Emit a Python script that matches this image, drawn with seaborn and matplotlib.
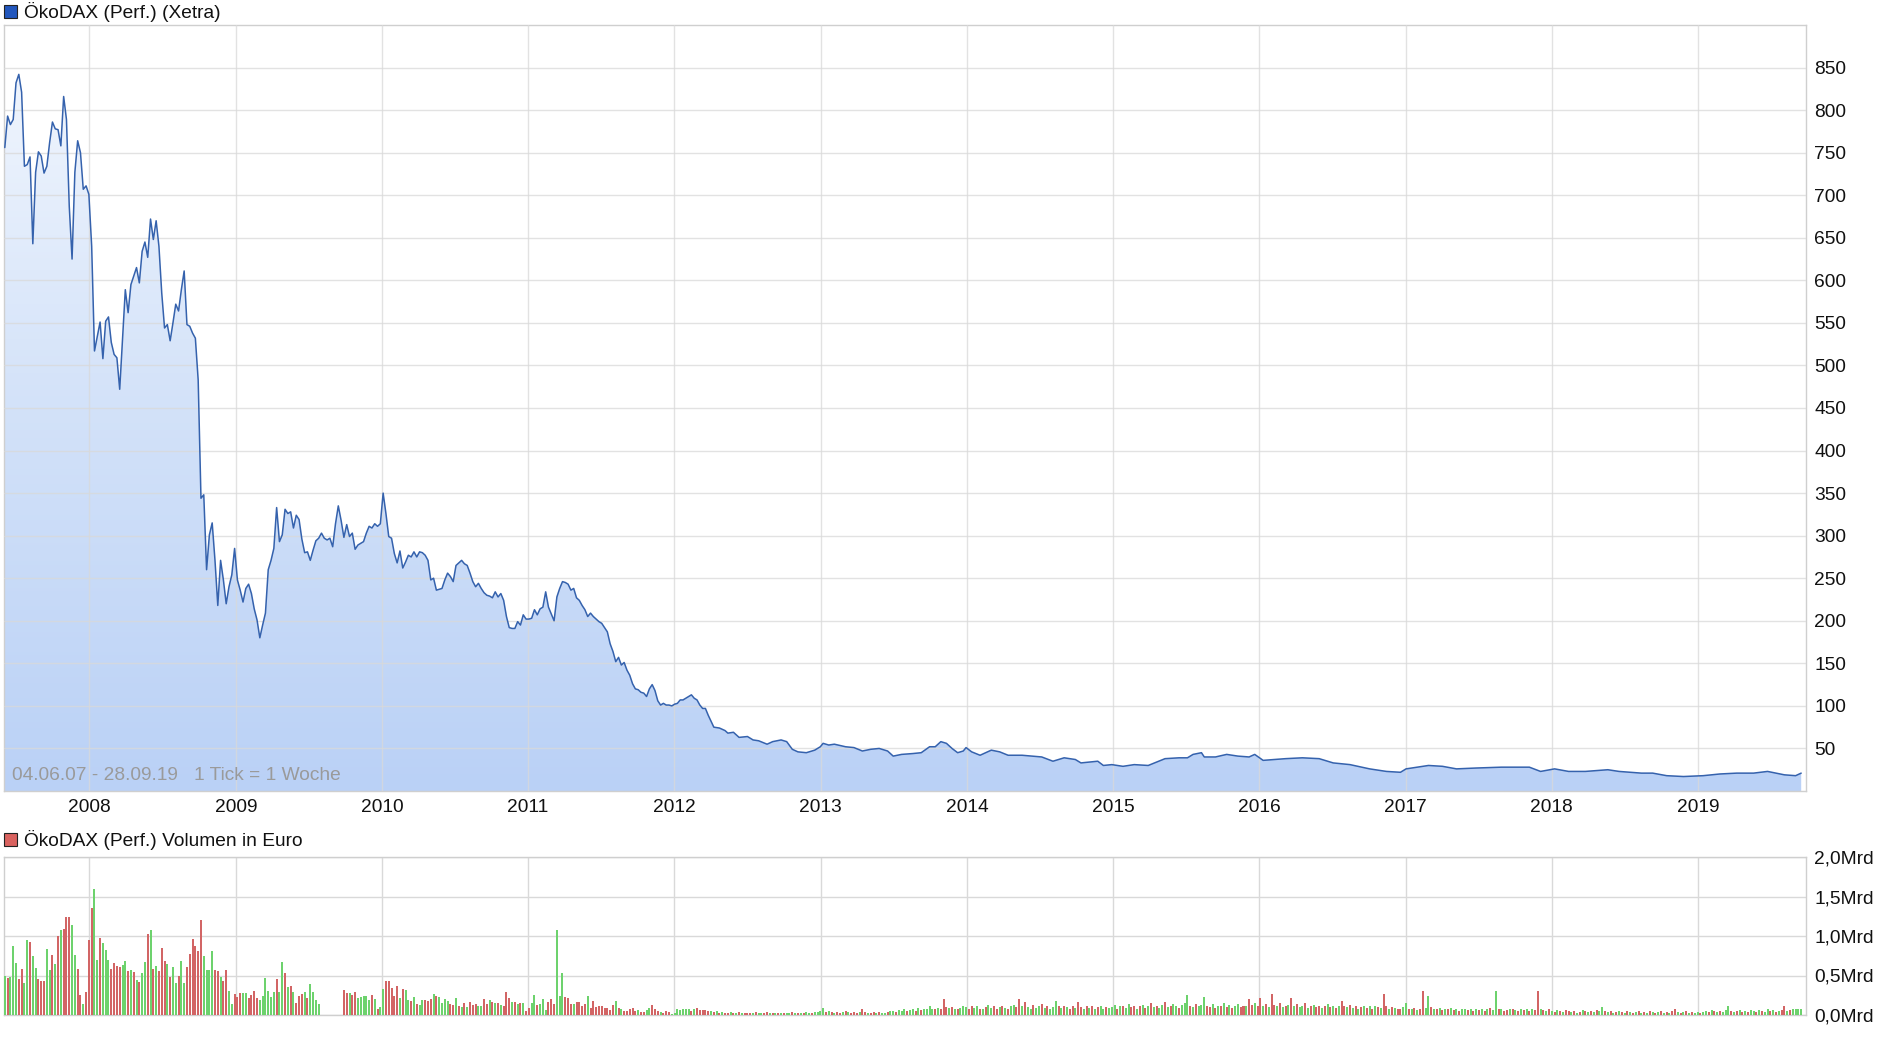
import numpy as np
import pandas as pd
import seaborn as sns
import matplotlib.pyplot as plt
import matplotlib.dates as mdates
from matplotlib.colors import LinearSegmentedColormap
from matplotlib.patches import Rectangle

# I. Data (weekly ticks, first tick 04.06.2007)
start = pd.Timestamp('2007-06-04')

# 1.1 price, one value per week for the first 250 weeks
price_weekly = [
    756, 793, 783, 789, 832, 842, 821, 734, 736, 745, 643, 727, 751, 746, 726, 734, 762, 786, 778, 777,
    758, 816, 789, 687, 625, 727, 764, 750, 707, 711, 701, 640, 517, 534, 551, 508, 552, 557, 527, 513,
    509, 472, 530, 589, 562, 595, 605, 615, 597, 634, 645, 627, 672, 648, 670, 640, 585, 544, 548, 529,
    550, 572, 564, 589, 611, 548, 546, 538, 532, 483, 344, 348, 260, 301, 315, 271, 218, 271, 248, 220,
    240, 254, 285, 248, 236, 222, 238, 243, 232, 214, 201, 180, 195, 209, 260, 271, 285, 333, 293, 301,
    331, 326, 328, 309, 324, 319, 296, 280, 281, 271, 283, 294, 297, 303, 297, 295, 297, 287, 314, 335,
    318, 298, 313, 299, 303, 284, 289, 291, 293, 303, 311, 309, 314, 311, 314, 350, 326, 299, 297, 279,
    268, 282, 262, 269, 277, 275, 281, 275, 281, 280, 277, 271, 248, 250, 236, 237, 238, 248, 256, 252,
    246, 265, 268, 271, 267, 265, 256, 246, 240, 244, 238, 233, 230, 229, 227, 234, 228, 232, 224, 205,
    192, 191, 191, 199, 195, 207, 202, 202, 203, 213, 207, 214, 216, 234, 216, 208, 200, 228, 238, 246,
    245, 243, 236, 238, 227, 224, 218, 213, 205, 209, 205, 202, 199, 197, 192, 187, 173, 164, 152, 157,
    148, 151, 142, 136, 126, 120, 119, 116, 115, 111, 120, 125, 118, 106, 101, 103, 101, 101, 100, 102,
    103, 107, 107, 109, 111, 113, 109, 107, 101, 97,
]

# 1.2 price after mid 2012, read at single weeks
later_week = [
    250, 251, 253, 255, 257, 258, 260, 262, 265, 267, 269, 272, 274, 277, 279, 281, 283, 286, 289, 291,
    292, 294, 296, 300, 303, 306, 309, 312, 315, 317, 320, 324, 327, 330, 332, 334, 336, 338, 340, 342,
    343, 345, 348, 350, 352, 355, 358, 363, 370, 374, 378, 382, 384, 390, 392, 395, 399, 403, 408, 411,
    414, 419, 422, 424, 427, 428, 432, 436, 440, 444, 446, 449, 453, 457, 463, 469, 474, 480, 487, 493,
    498, 500, 508, 513, 518, 525, 534, 544, 548, 553, 558, 564, 572, 576, 584, 588, 593, 599, 606, 612,
    618, 624, 629, 635, 639, 641,
]
later_price = [
    97, 89, 75, 74, 71, 68, 69, 63, 64, 60, 59, 55, 58, 60, 58, 49, 46, 45, 48, 52,
    56, 54, 55, 52, 51, 47, 49, 50, 47, 41, 43, 44, 45, 52, 52, 58, 56, 50, 45, 47,
    51, 46, 42, 45, 48, 46, 42, 42, 40, 35, 39, 37, 33, 35, 30, 31, 29, 31, 30, 34,
    38, 39, 39, 43, 45, 40, 40, 43, 41, 40, 43, 36, 37, 38, 39, 38, 33, 31, 26, 23,
    22, 26, 30, 29, 26, 27, 28, 28, 23, 26, 23, 23, 25, 23, 21, 21, 18, 17, 18, 20,
    21, 21, 23, 19, 18, 21,
]

# 1.3 weekly volume in Mrd Euro and direction of the week (g = up, r = down)
vol_mrd = [
    .49, .47, .48, .87, .66, .46, .58, .41, .95, .92, .75, .60,
    .46, .43, .43, .84, .57, .76, .65, 1.00, 1.08, 1.09, 1.24, 1.24,
    1.14, .76, .58, .25, .14, .29, .95, 1.35, 1.60, .70, .97, .91,
    .82, .70, .58, .66, .62, .61, .63, .68, .56, .57, .55, .44,
    .42, .53, .67, 1.03, 1.08, .58, .62, .56, .85, .68, .65, .48,
    .61, .41, .49, .68, .41, .61, .77, .96, .87, .81, 1.20, .75,
    .57, .57, .81, .57, .56, .48, .43, .57, .30, .14, .27, .23,
    .28, .28, .28, .22, .25, .30, .22, .19, .24, .47, .30, .23,
    .29, .46, .29, .67, .53, .35, .37, .29, .15, .24, .27, .29,
    .22, .39, .29, .19, .14, 0, 0, 0, 0, 0, 0, 0, 0,
    .32, .28, .28, .25, .29, .22, .23, .24, .24, .19, .25, .20,
    .08, .10, .33, .43, .43, .34, .24, .37, .22, .33, .32, .19,
    .18, .23, .14, .13, .19, .19, .18, .20, .27, .24, .23, .15,
    .20, .18, .14, .13, .22, .11, .10, .15, .10, .16,
    .13, .14, .11, .11, .20, .14, .19, .16, .15, .15, .13, .11,
    .29, .22, .16, .16, .14, .15, .15, .05, .09, .15, .25, .13,
    .14, .20, .06, .16, .20, .14, 1.08, .24, .53, .23, .22, .14,
    .14, .16, .16, .11, .14, .24, .09, .18, .10, .11, .11, .09,
    .09, .06, .13, .18, .09, .08, .05, .05, .08, .09, .05, .06,
    .04, .04, .06, .09, .13, .08, .05, .04, .03, .05, .04, .01,
    .03, .08, .06, .08, .08, .08, .05, .08, .09, .06,
    .06, .06, .05, .05, .04, .05, .03, .04, .03, .03, .04, .03,
    .02, .04, .03, .03, .02, .03, .03, .04, .02, .03, .03, .04,
    .03, .02, .03, .03, .02, .03, .02, .03, .04, .03, .03, .02,
    .03, .04, .03, .03, .04, .04,
    .05, .09, .04, .05, .04, .03, .04, .03, .04, .05, .04, .03, .04,
    .03, .04, .07, .04, .03, .03, .04, .03, .04, .03, .03, .04, .05,
    .05, .04, .06, .05, .08, .05, .06, .07, .05, .09, .06, .07, .08,
    .12, .08, .07, .09, .08, .20, .10, .09, .10, .08, .07, .09, .12,
    .10, .08, .11, .09, .12, .08, .07, .10, .13, .09, .11, .08, .10,
    .12, .09, .07, .11, .13, .10, .20, .12, .17, .10, .08, .13, .09,
    .11, .14, .09, .12, .08, .10, .18, .11, .09, .12, .10, .08, .11,
    .09, .16, .10, .08, .12, .09, .11, .07, .10, .12, .08, .10, .09,
    .10, .13, .08, .11, .12, .09, .14, .10, .12, .08, .11, .13, .09,
    .12, .15, .10, .11, .09, .13, .16, .10, .12, .14, .11, .09, .13,
    .15, .25, .12, .10, .14, .11, .13, .23, .12, .10, .14, .09, .12,
    .11, .15, .10, .13, .09, .12, .14, .10, .12, .11, .20, .13, .15,
    .12, .21, .11, .14, .10, .27, .13, .11, .15, .10, .12, .13, .21,
    .11, .14, .10, .12, .15, .09, .11, .13, .10, .12, .09, .11, .14,
    .10, .12, .09, .11, .18, .12, .10, .13, .09, .11, .08, .10, .12,
    .09, .11, .08, .12, .10, .09, .26, .11, .08, .10, .09, .07, .08, .10,
    .15, .08, .07, .09, .06, .08, .30, .09, .24, .10, .08, .07, .09,
    .06, .08, .07, .09, .06, .07, .05, .08, .07, .06, .08, .05, .07,
    .06, .08, .05, .07, .09, .06, .30, .08, .07, .05, .06, .08, .07,
    .06, .05, .07, .06, .08, .05, .07, .06, .31, .08, .06, .05, .07,
    .05, .04, .06, .05, .04, .06, .05, .04, .05, .03, .04, .06, .05,
    .04, .05, .04, .06, .05, .10, .05, .04, .05, .03, .04, .05, .04,
    .03, .05, .04, .03, .04, .05, .03, .04, .03, .05, .04, .03, .04,
    .05, .03, .04, .03, .05, .08, .04, .03, .04, .05, .03, .04, .03,
    .04, .03, .04, .05, .04, .06, .05, .04, .05, .04, .06, .12, .05,
    .04, .05, .06, .04, .05, .04, .06, .05, .04, .06, .05, .04, .08,
    .05, .06, .04, .05, .06, .12, .05, .06, .07, .08, .07, .08,
]
vol_dir = (
    "grgggrrggrgg" "rrrggrgrgrrr" "ggrrgrrrggrg" "ggrrrrggrgrg" "rggrgrgrrrgr" "ggrggrrrrrrg"
    "gggrrgrrggrr" "rggrrrrggggg" "grggrgrgrrrg" "rggggrrrrrrrr" "rrgrrgggggrg" "rggrrrrrgrgg"
    "rgrggrrrgrgg" "ggrrgrgrgr" "rrggrrgrgrgr" "rrgrgrgrrggr" "gggrrrgggrrr" "grrrrgrrrrrr"
    "rrrgrgrrrrrg" "rrggrrrgrrrg" "ggggggrgrr" "rrrgrgrgrrgr" "grgrrrgrggrr" "grgrgrggrgrg"
    "rggrgg" "ggrgrgrrgrgrr" "rgrrgrrgrggrg" "grgggrggrgrgg" "ggrgrrrgrgrgg" "grrggrgrggrrg"
    "rgrggrrgrggrg" "grgrgggrgrgrr" "grrgrgrgrggrg" "ggrgrggrrgrgr" "grgrggrgrggrg" "ggrgrgggrrgrg"
    "rgrgrggrrgrrg" "rrgrgrrgrgrgr" "grggrgrgrrgrg" "rgrgrrgrgrgrg" "rgrgrgrrgrgrrg" "grgrgrrggrgrg"
    "rgrgrgrggrgrg" "rgrgrggrgrrgr" "grgrgrgrrgrgr" "grgrgrrgrgrgr" "grgrggrgrgrgr" "grgrgrgrgrgrg"
    "rgrgrrgrgrgrg" "grggrgrgrgggr" "grgrgrggrgrgg" "rgrgrrgrgggg"
)
years = list(range(2008, 2020))
vol_ticks = [0, 0.5, 1.0, 1.5, 2.0]
price_ticks = list(range(50, 900, 50))

assert len(vol_mrd) == len(vol_dir)

# II. Build frames
price_df = pd.DataFrame({
    'week': list(range(len(price_weekly))) + later_week,
    'price': price_weekly + later_price,
})
price_df['date'] = start + pd.to_timedelta(price_df['week'] * 7, unit='D')

vol_df = pd.DataFrame({'mrd': vol_mrd, 'dir': list(vol_dir)})
vol_df['date'] = start + pd.to_timedelta(np.arange(len(vol_df)) * 7, unit='D')

# III. Plot
sns.set_theme(style='white')
plt.rcParams['font.family'] = ['Liberation Sans', 'DejaVu Sans']
fs = 13.8
plt.rcParams['font.size'] = fs

W, H = 1880, 1037
fig = plt.figure(figsize=(W / 100, H / 100), dpi=100)
ax = fig.add_axes([4 / W, 1 - 791 / H, 1802 / W, 766 / H])
axv = fig.add_axes([4 / W, 1 - 1015 / H, 1802 / W, 158 / H])

x0, x1 = pd.Timestamp('2007-06-02'), pd.Timestamp('2019-09-28')
grid_col = '#d9d9d9'
spine_col = '#cfcfcf'

# 3.1 price panel: gradient area + line
fill = ax.fill_between(price_df['date'], price_df['price'], 0, color='none', lw=0)
cmap = LinearSegmentedColormap.from_list('okofill', ['#bad1f6', '#d3e2f9', '#f4f8fe'])
grad = np.linspace(0, 1, 256).reshape(-1, 1)
im = ax.imshow(grad, cmap=cmap, aspect='auto', origin='lower', zorder=1,
               extent=[mdates.date2num(x0), mdates.date2num(x1), 0, 900])
im.set_clip_path(fill.get_paths()[0], transform=ax.transData)
sns.lineplot(data=price_df, x='date', y='price', ax=ax, color='#3562ad', linewidth=1.1, zorder=4)

ax.set_xlim(x0, x1)
ax.set_ylim(0, 900)
ax.set_yticks(price_ticks)
ax.set_yticklabels([str(v) for v in price_ticks])
ax.set_xticks([pd.Timestamp(f'{y}-01-01') for y in years])
ax.set_xticklabels([str(y) for y in years])
ax.yaxis.tick_right()
ax.tick_params(axis='y', length=0, pad=6, labelsize=fs, colors='#111111')
ax.tick_params(axis='x', length=0, pad=6, labelsize=fs, colors='#111111')
ax.grid(True, color=grid_col, linewidth=1, alpha=0.75, zorder=2)
ax.set_axisbelow(False)
ax.set_xlabel('')
ax.set_ylabel('')
for s in ax.spines.values():
    s.set_color(spine_col)
    s.set_linewidth(1)
ax.text(8 / 1802, 15 / 766, '04.06.07 - 28.09.19   1 Tick = 1 Woche', transform=ax.transAxes,
        fontsize=fs, color='#9a9a9a', va='center', ha='left', zorder=5)

# 3.2 volume panel
bar_colors = ['#6dd26d' if d == 'g' else '#d26565' for d in vol_df['dir']]
axv.bar(vol_df['date'], vol_df['mrd'], width=5, color=bar_colors, linewidth=0, zorder=3)
axv.set_xlim(x0, x1)
axv.set_ylim(0, 2.0)
axv.set_yticks(vol_ticks)
axv.set_yticklabels([f'{v:.1f}'.replace('.', ',') + 'Mrd' for v in vol_ticks])
axv.set_xticks([pd.Timestamp(f'{y}-01-01') for y in years])
axv.set_xticklabels([])
axv.yaxis.tick_right()
axv.tick_params(axis='y', length=0, pad=6, labelsize=fs, colors='#111111')
axv.tick_params(axis='x', length=0)
axv.grid(True, color=grid_col, linewidth=1, zorder=0)
axv.set_axisbelow(True)
for s in axv.spines.values():
    s.set_color(spine_col)
    s.set_linewidth(1)

# 3.3 headers with coloured squares
fig.add_artist(Rectangle((4 / W, 1 - 18 / H), 13 / W, 13 / H, transform=fig.transFigure,
                         facecolor='#2257bd', edgecolor='#222222', linewidth=0.8))
fig.text(24 / W, 1 - 12 / H, 'ÖkoDAX (Perf.) (Xetra)', fontsize=fs, color='#111111',
         va='center', ha='left')
fig.add_artist(Rectangle((4 / W, 1 - 846 / H), 13 / W, 13 / H, transform=fig.transFigure,
                         facecolor='#d9625f', edgecolor='#222222', linewidth=0.8))
fig.text(24 / W, 1 - 840 / H, 'ÖkoDAX (Perf.) Volumen in Euro', fontsize=fs, color='#111111',
         va='center', ha='left')

fig.savefig('out.png', dpi=100)
